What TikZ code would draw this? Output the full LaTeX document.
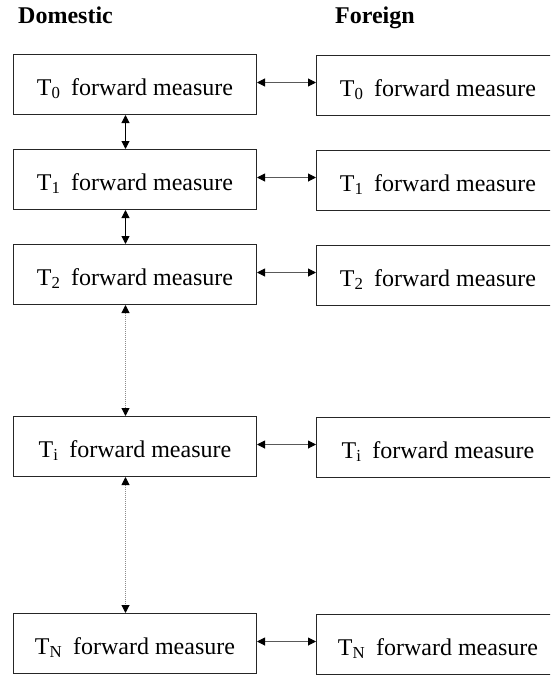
\documentclass[tikz,border=0pt]{standalone}
\usepackage{fontspec}
\setmainfont{Liberation Serif}
\usetikzlibrary{arrows.meta}
\begin{document}
\begin{tikzpicture}[x=1pt,y=-1pt,
  measbox/.style={draw=black!85,line width=1pt,rectangle,minimum width=243pt,minimum height=60pt,
    inner sep=0pt,anchor=north west,text height=21pt,text depth=0pt,
    font=\fontsize{24}{28}\selectfont},
  head/.style={anchor=base west,inner sep=0pt,font=\fontsize{24}{28}\selectfont\bfseries},
  tip/.tip={Triangle[length=8pt,width=8pt,color=black,fill=black]},
  link/.style={line width=1pt,tip-tip},
  hlink/.style={link,draw=black!65},
  dlink/.style={link,draw=black!45,dash pattern=on 1pt off 1pt}]
\useasboundingbox (0,0) rectangle (550,675);
\clip (0,0) rectangle (550,675);
\node[head] (hd) at (18,23) {Domestic};
\node[head] (hf) at (335,23) {Foreign};
\newcommand{\meas}[1]{T\textsubscript{#1}\hspace{0.45em}forward measure}
\node[measbox] (L0) at (13,54) {\meas{0}};
\node[measbox] (R0) at (316,55) {\meas{0}};
\node[measbox] (L1) at (13,149) {\meas{1}};
\node[measbox] (R1) at (316,150) {\meas{1}};
\node[measbox] (L2) at (13,244) {\meas{2}};
\node[measbox] (R2) at (316,245) {\meas{2}};
\node[measbox] (Li) at (13,416) {\meas{i}};
\node[measbox] (Ri) at (316,417) {\meas{i}};
\node[measbox] (LN) at (13,613) {\meas{N}};
\node[measbox] (RN) at (316,614) {\meas{N}};
\foreach \r in {0,1,2,i,N}{
  \draw[hlink] ([yshift=2pt]L\r.east) coordinate (a\r) -- (a\r -| R\r.west);
}
\draw[link] ([xshift=-9.5pt]L0.south) -- ([xshift=-9.5pt]L1.north);
\draw[link] ([xshift=-9.5pt]L1.south) -- ([xshift=-9.5pt]L2.north);
\draw[dlink] ([xshift=-9.5pt]L2.south) -- ([xshift=-9.5pt]Li.north);
\draw[dlink] ([xshift=-9.5pt]Li.south) -- ([xshift=-9.5pt]LN.north);
\end{tikzpicture}
\end{document}
